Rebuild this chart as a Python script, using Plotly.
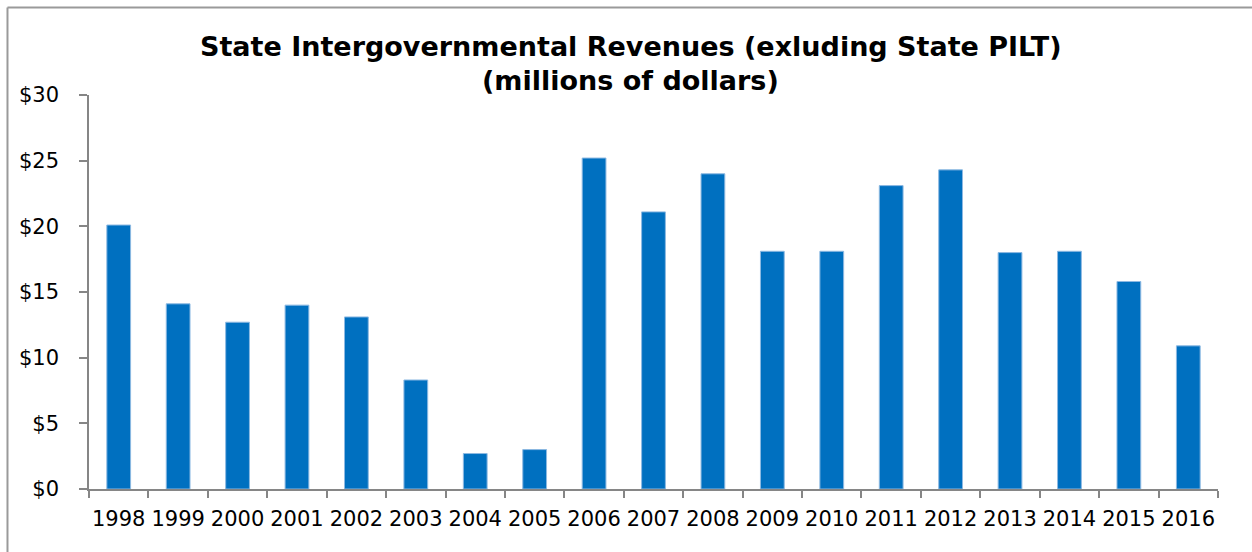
import plotly.graph_objects as go

years = ["1998", "1999", "2000", "2001", "2002", "2003", "2004", "2005", "2006", "2007",
         "2008", "2009", "2010", "2011", "2012", "2013", "2014", "2015", "2016"]
revenues = [20.1, 14.1, 12.7, 14.0, 13.1, 8.3, 2.7, 3.0, 25.2, 21.1,
            24.0, 18.1, 18.1, 23.1, 24.3, 18.0, 18.1, 15.8, 10.9]
y_ticks = [0, 5, 10, 15, 20, 25, 30]
y_tick_labels = ["$0", "$5", "$10", "$15", "$20", "$25", "$30"]
title_line1 = "State Intergovernmental Revenues (exluding State PILT)"
title_line2 = "(millions of dollars)"

FONT = "'DejaVu Sans', sans-serif"
AXIS_GRAY = "#868686"

fig = go.Figure(
    go.Bar(
        x=years,
        y=revenues,
        marker=dict(color="#0070C0", line=dict(color="#8DB9E2", width=1)),
        width=0.4,
        hoverinfo="x+y",
    )
)

title_font = dict(family=FONT, size=27, color="black", weight="bold")

fig.update_layout(
    width=1252,
    height=552,
    paper_bgcolor="white",
    plot_bgcolor="white",
    margin=dict(l=89, r=34, t=95, b=63),
    showlegend=False,
    font=dict(family=FONT, color="black"),
    bargap=0.6,
    annotations=[
        dict(text=title_line1, xref="paper", yref="paper", x=0.48, y=1.124,
             xanchor="center", yanchor="middle", showarrow=False, font=title_font),
        dict(text=title_line2, xref="paper", yref="paper", x=0.48, y=1.036,
             xanchor="center", yanchor="middle", showarrow=False, font=title_font),
    ],
    shapes=[
        dict(type="line", xref="paper", yref="paper", x0=-0.0722, x1=-0.0722, y0=-0.2, y1=1.2219,
             line=dict(color="#9A9A9A", width=2)),
        dict(type="line", xref="paper", yref="paper", x0=-0.0722, x1=1.05, y0=1.2219, y1=1.2219,
             line=dict(color="#9A9A9A", width=2)),
    ],
)

fig.update_xaxes(
    type="category",
    showline=True,
    linecolor=AXIS_GRAY,
    linewidth=1.5,
    ticks="outside",
    tickson="boundaries",
    ticklen=7,
    tickwidth=1.5,
    tickcolor=AXIS_GRAY,
    showgrid=False,
    tickangle=0,
    tickfont=dict(family=FONT, size=21, color="black"),
    ticklabelstandoff=10,
)

fig.update_yaxes(
    range=[0, 30],
    tickvals=y_ticks,
    ticktext=y_tick_labels,
    showline=True,
    linecolor=AXIS_GRAY,
    linewidth=1.5,
    ticks="outside",
    ticklen=8,
    tickwidth=1.5,
    tickcolor=AXIS_GRAY,
    showgrid=False,
    zeroline=False,
    tickfont=dict(family=FONT, size=21, color="black"),
    ticklabelstandoff=16,
)

fig.write_html("out.html")
